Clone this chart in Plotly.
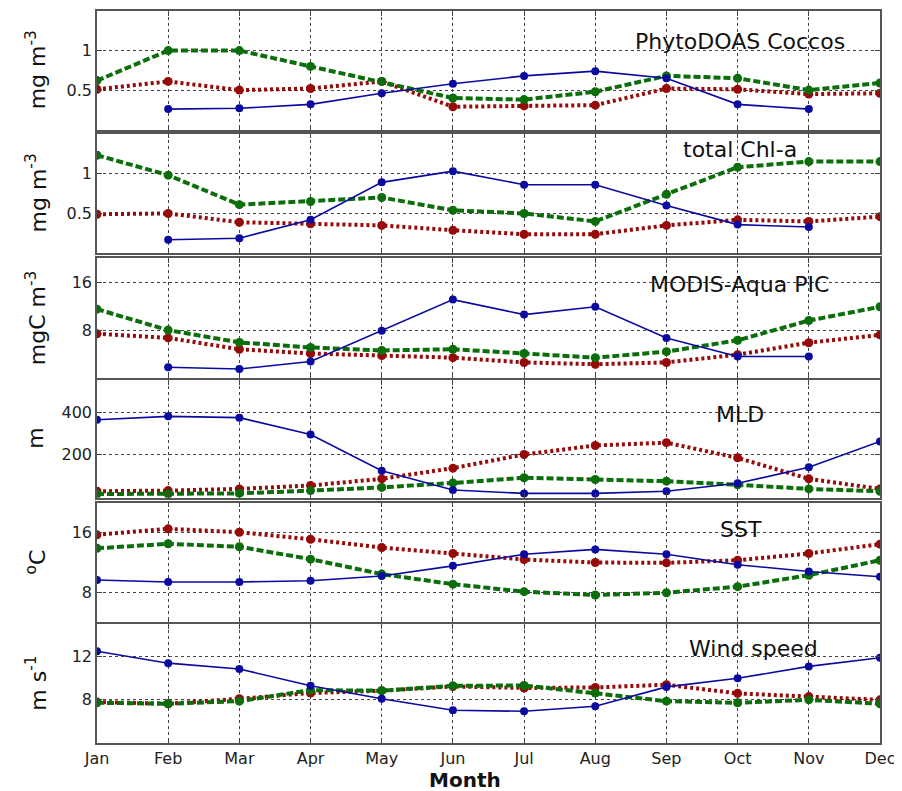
import plotly.graph_objects as go
from plotly.subplots import make_subplots

months = ["Jan", "Feb", "Mar", "Apr", "May", "Jun", "Jul", "Aug", "Sep", "Oct", "Nov", "Dec"]

# PhytoDOAS Coccos (mg m-3)
cocco_blue = [None, 0.26, 0.27, 0.32, 0.46, 0.58, 0.68, 0.74, 0.65, 0.32, 0.26, None]
cocco_green = [0.62, 1.0, 1.0, 0.80, 0.61, 0.40, 0.38, 0.48, 0.68, 0.65, 0.50, 0.59]
cocco_red = [0.51, 0.61, 0.50, 0.52, 0.61, 0.29, 0.30, 0.31, 0.52, 0.51, 0.45, 0.46]

# total Chl-a (mg m-3)
chl_blue = [None, 0.17, 0.19, 0.42, 0.89, 1.03, 0.86, 0.86, 0.60, 0.36, 0.33, None]
chl_green = [1.23, 0.98, 0.61, 0.65, 0.70, 0.54, 0.50, 0.40, 0.74, 1.08, 1.15, 1.15]
chl_red = [0.49, 0.50, 0.39, 0.37, 0.35, 0.29, 0.24, 0.24, 0.35, 0.42, 0.40, 0.46]

# MODIS-Aqua PIC (mgC m-3)
pic_blue = [None, 1.8, 1.5, 2.75, 7.9, 13.1, 10.6, 11.9, 6.7, 3.6, 3.6, None]
pic_green = [11.5, 8.0, 5.95, 5.1, 4.6, 4.8, 4.1, 3.4, 4.4, 6.3, 9.6, 11.9]
pic_red = [7.4, 6.7, 4.8, 4.1, 3.75, 3.4, 2.6, 2.3, 2.6, 3.9, 5.9, 7.2]

# MLD (m)
mld_blue = [364, 380, 374, 295, 126, 36, 20, 20, 30, 67, 142, 263]
mld_green = [17, 17, 20, 33, 48, 69, 93, 85, 77, 60, 41, 30]
mld_red = [30, 33, 41, 57, 88, 138, 202, 244, 257, 186, 88, 41]

# SST (degC)
sst_blue = [9.66, 9.4, 9.4, 9.55, 10.2, 11.55, 13.1, 13.75, 13.1, 11.7, 10.8, 10.1]
sst_green = [13.9, 14.5, 14.1, 12.45, 10.45, 9.1, 8.1, 7.65, 7.96, 8.77, 10.3, 12.3]
sst_red = [15.7, 16.5, 16.05, 15.1, 14.0, 13.2, 12.4, 12.0, 11.95, 12.3, 13.2, 14.45]

# Wind speed (m s-1)
wind_blue = [12.5, 11.4, 10.86, 9.3, 8.1, 7.03, 6.94, 7.4, 9.2, 10.0, 11.1, 11.9]
wind_green = [7.73, 7.64, 7.88, 8.9, 8.85, 9.3, 9.33, 8.63, 7.88, 7.73, 8.0, 7.64]
wind_red = [7.8, 7.64, 8.1, 8.63, 8.85, 9.24, 9.1, 9.15, 9.4, 8.6, 8.3, 8.0]

panel_titles = ["PhytoDOAS Coccos", "total Chl-a", "MODIS-Aqua PIC", "MLD", "SST", "Wind speed"]
y_titles = ["mg m<sup>-3</sup>", "mg m<sup>-3</sup>", "mgC m<sup>-3</sup>", "m", "<sup>o</sup>C", "m s<sup>-1</sup>"]
y_ranges = [[0, 1.5], [0, 1.5], [0, 20], [0, 550], [4, 20], [4, 15]]
y_ticks = [[0.5, 1], [0.5, 1], [8, 16], [200, 400], [8, 16], [8, 12]]
y_ticktext = [["0.5", "1"], ["0.5", "1"], ["8", "16"], ["200", "400"], ["8", "16"], ["8", "12"]]

panels = [
    (cocco_blue, cocco_green, cocco_red),
    (chl_blue, chl_green, chl_red),
    (pic_blue, pic_green, pic_red),
    (mld_blue, mld_green, mld_red),
    (sst_blue, sst_green, sst_red),
    (wind_blue, wind_green, wind_red),
]

BLUE = "#0a0aa0"
GREEN = "#0b6e0b"
RED = "#960a0a"

# The page body has an 8px margin: figure origin sits at (8, 8) in the window.
OFF = 8
W, H = 902 - OFF, 791 - OFF
# plot area in window pixels
PL, PR, PT, PB = 97, 880, 9, 743
ML, MR, MT, MB = PL - OFF, W - (PR - OFF), PT - OFF, H - (PB - OFF)
ph = PB - PT
pw = PR - PL
pix = [(9, 128), (132, 252), (257, 377), (379, 497), (502, 622), (624, 743)]


def py(y):
    return (PB - y) / ph


def px(x):
    return (x - PL) / pw


fig = make_subplots(rows=6, cols=1, shared_xaxes=True, vertical_spacing=0.005)

for i, (b, g, r) in enumerate(panels):
    row = i + 1
    fig.add_trace(go.Scatter(x=months, y=r, mode="lines+markers", name="dotted",
                             line=dict(color=RED, width=4, dash="3px,3px"),
                             marker=dict(color=RED, size=9), showlegend=False), row=row, col=1)
    fig.add_trace(go.Scatter(x=months, y=g, mode="lines+markers", name="dashed",
                             line=dict(color=GREEN, width=4, dash="7px,3px"),
                             marker=dict(color=GREEN, size=9), showlegend=False), row=row, col=1)
    fig.add_trace(go.Scatter(x=months, y=b, mode="lines+markers", name="solid",
                             line=dict(color=BLUE, width=1.6),
                             marker=dict(color=BLUE, size=8), showlegend=False,
                             connectgaps=False), row=row, col=1)

axis_common = dict(showline=True, mirror="allticks", linecolor="#555555", linewidth=1.5,
                   ticks="inside", ticklen=5, tickcolor="#444444",
                   showgrid=True, gridcolor="#444444", griddash="dot", gridwidth=1,
                   zeroline=False,
                   tickfont=dict(family="DejaVu Sans", size=16, color="#222222"))

for i in range(6):
    top, bot = pix[i]
    yname = "yaxis" if i == 0 else f"yaxis{i+1}"
    xname = "xaxis" if i == 0 else f"xaxis{i+1}"
    fig.layout[yname].update(domain=[py(bot), py(top)], range=y_ranges[i],
                             tickvals=y_ticks[i], ticktext=y_ticktext[i], **axis_common)
    fig.layout[xname].update(range=[0, 11], type="category", categoryorder="array",
                             categoryarray=months, showticklabels=(i == 5), **axis_common)
    fig.add_annotation(text=y_titles[i], xref="paper", yref="paper",
                       x=px(36), y=py((top + bot) / 2), xanchor="center", yanchor="middle",
                       textangle=-90, showarrow=False,
                       font=dict(family="DejaVu Sans", size=22, color="#111111"))

label_centers = [(740, 40), (740, 148), (739, 283), (740, 414), (741, 529), (753, 648)]
for i, t in enumerate(panel_titles):
    cx, cy = label_centers[i]
    fig.add_annotation(text=t, xref="paper", yref="paper", x=px(cx), y=py(cy),
                       xanchor="center", yanchor="middle", showarrow=False,
                       font=dict(family="DejaVu Sans", size=22, color="#111111"))

fig.add_annotation(text="<b>Month</b>", xref="paper", yref="paper", x=px(465), y=py(780),
                   xanchor="center", yanchor="middle", showarrow=False,
                   font=dict(family="DejaVu Sans", size=20, color="#111111"))

fig.update_layout(width=W, height=H, margin=dict(l=ML, r=MR, t=MT, b=MB),
                  plot_bgcolor="white", paper_bgcolor="white", showlegend=False)

fig.write_html("out.html")
